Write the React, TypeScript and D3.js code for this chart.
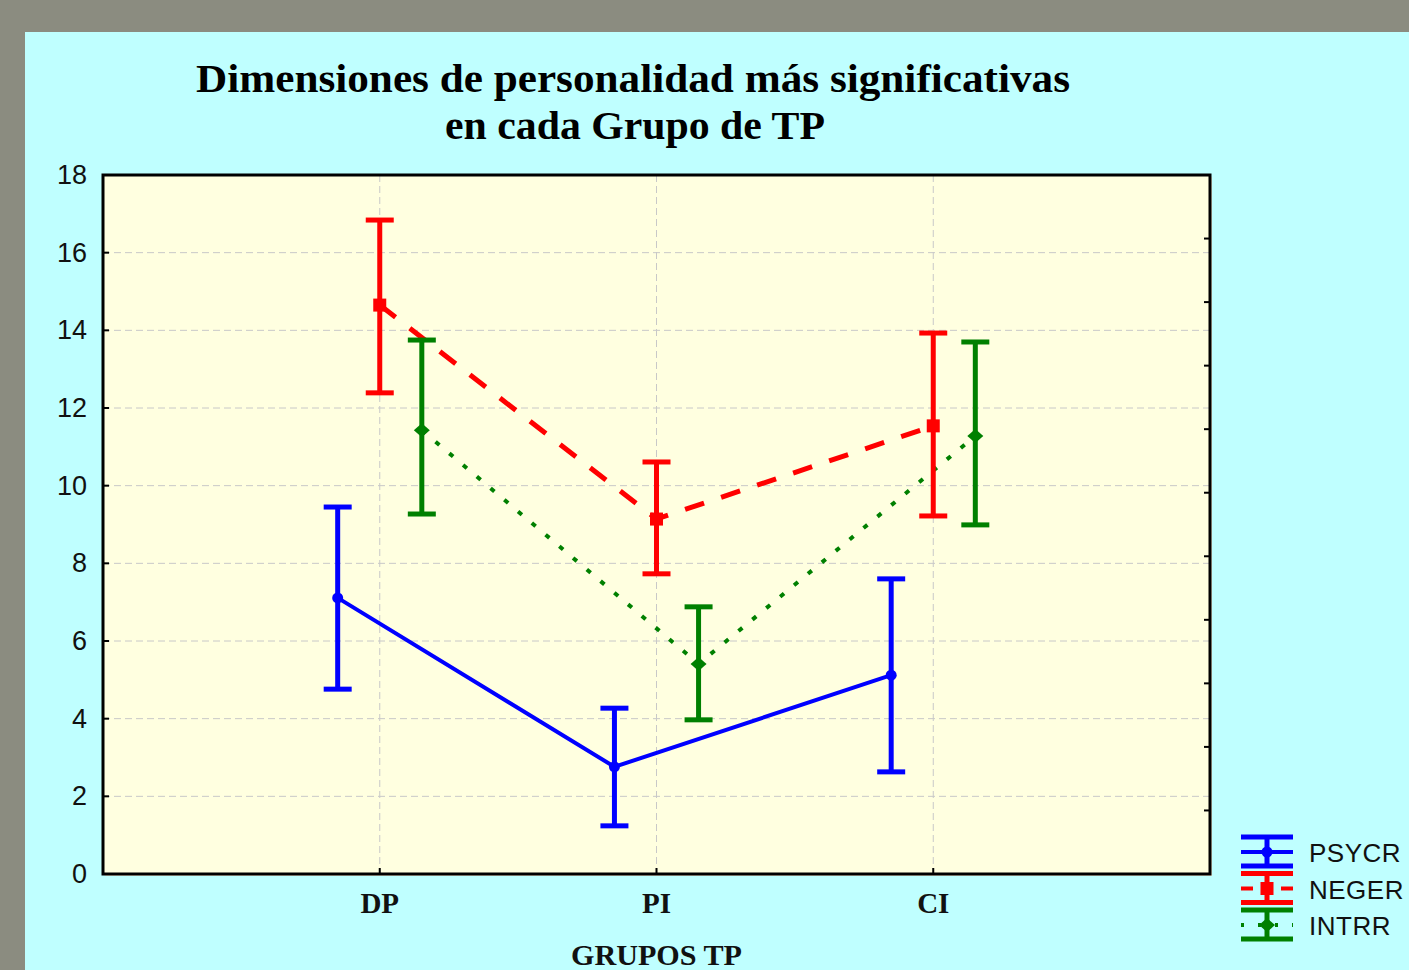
import React from "react";
import * as d3 from "d3";

const categories = ["DP", "PI", "CI"];
const seriesNames = ["PSYCR", "NEGER", "INTRR"];
const psycrMean = [7.11, 2.76, 5.12];
const psycrUpper = [9.45, 4.27, 7.6];
const psycrLower = [4.76, 1.24, 2.63];
const negerMean = [14.65, 9.14, 11.54];
const negerUpper = [16.84, 10.61, 13.93];
const negerLower = [12.39, 7.73, 9.22];
const intrrMean = [11.43, 5.41, 11.28];
const intrrUpper = [13.75, 6.88, 13.7];
const intrrLower = [9.27, 3.97, 8.99];
const yTicks = [0, 2, 4, 6, 8, 10, 12, 14, 16, 18];
const titleLines = ["Dimensiones de personalidad más significativas", "en cada Grupo de TP"];
const xTitle = "GRUPOS TP";

const W = 1409;
const H = 970;
const L = 103, R = 1210, T = 175, B = 874;

const x = d3.scaleLinear().domain([0, 4]).range([L, R]);
const y = d3.scaleLinear().domain([0, 18]).range([B, T]);
const yRight = d3.scaleLinear().domain([0, 11]).range([B, T]);

type Series = { name: string; mean: number[]; up: number[]; lo: number[]; color: string; offset: number; dash: string; marker: string };
const series: Series[] = [
  { name: seriesNames[0], mean: psycrMean, up: psycrUpper, lo: psycrLower, color: "#0000ff", offset: -0.152, dash: "", marker: "circle" },
  { name: seriesNames[1], mean: negerMean, up: negerUpper, lo: negerLower, color: "#ff0000", offset: 0, dash: "20,18", marker: "square" },
  { name: seriesNames[2], mean: intrrMean, up: intrrUpper, lo: intrrLower, color: "#008000", offset: 0.152, dash: "5,13", marker: "diamond" },
];

function Marker({ kind, cx, cy, color }: { kind: string; cx: number; cy: number; color: string }) {
  if (kind === "circle") return <circle cx={cx} cy={cy} r={5.5} fill={color} />;
  if (kind === "square") return <rect x={cx - 6.5} y={cy - 6.5} width={13} height={13} fill={color} />;
  return <path d={`M${cx},${cy - 7}L${cx + 8},${cy}L${cx},${cy + 7}L${cx - 8},${cy}Z`} fill={color} />;
}

export default function App() {
  const line = d3.line<[number, number]>().x((d) => d[0]).y((d) => d[1]);
  const capHalf = 14;
  const serif = "Liberation Serif, Times New Roman, serif";
  const sans = "Liberation Sans, Arial, sans-serif";
  return (
    <svg width={W} height={H} style={{ position: "absolute", left: 0, top: 0 }}>
      <rect x={0} y={0} width={W} height={H} fill="#8b8c80" />
      <rect x={25} y={32} width={W - 25} height={H - 32} fill="#bfffff" />
      {/* plot area */}
      <rect x={L + 2} y={T + 2} width={R - L} height={B - T} fill="#f0ead0" />
      <rect x={L} y={T} width={R - L} height={B - T} fill="#ffffe0" />
      {/* grid */}
      {yTicks.filter((t) => t > 0 && t < 18).map((t) => (
        <line key={"gy" + t} x1={L} x2={R} y1={y(t)} y2={y(t)} stroke="#c8c8c8" strokeWidth={1} strokeDasharray="7,4" />
      ))}
      {categories.map((c, i) => (
        <line key={"gx" + c} x1={x(i + 1)} x2={x(i + 1)} y1={T} y2={B} stroke="#c8c8c8" strokeWidth={1} strokeDasharray="7,4" />
      ))}
      {/* frame */}
      <rect x={L} y={T} width={R - L} height={B - T} fill="none" stroke="#000" strokeWidth={3} />
      {/* left ticks */}
      {yTicks.map((t) => (
        <g key={"yt" + t}>
          <line x1={L} x2={L + 6} y1={y(t)} y2={y(t)} stroke="#000" strokeWidth={2} />
          <text x={87} y={y(t) + 9} textAnchor="end" fontFamily={sans} fontSize={27} fill="#111">{t}</text>
        </g>
      ))}
      {/* right ticks */}
      {d3.range(1, 11).map((t) => (
        <line key={"rt" + t} x1={R - 6} x2={R} y1={yRight(t)} y2={yRight(t)} stroke="#000" strokeWidth={2} />
      ))}
      {/* bottom ticks & labels */}
      {categories.map((c, i) => (
        <g key={"xt" + c}>
          <line x1={x(i + 1)} x2={x(i + 1)} y1={B} y2={B - 6} stroke="#000" strokeWidth={2} />
          <text x={x(i + 1)} y={913} textAnchor="middle" fontFamily={serif} fontWeight="bold" fontSize={29} fill="#111">{c}</text>
        </g>
      ))}
      <text x={x(2)} y={965} textAnchor="middle" fontFamily={serif} fontWeight="bold" fontSize={29} fill="#111" textLength={171} lengthAdjust="spacingAndGlyphs">{xTitle}</text>
      {/* title */}
      <text x={633} y={92} textAnchor="middle" fontFamily={serif} fontWeight="bold" fontSize={40} fill="#000" textLength={874} lengthAdjust="spacingAndGlyphs">{titleLines[0]}</text>
      <text x={635} y={139} textAnchor="middle" fontFamily={serif} fontWeight="bold" fontSize={40} fill="#000" textLength={380} lengthAdjust="spacingAndGlyphs">{titleLines[1]}</text>
      {/* series lines */}
      {series.map((s) => (
        <path key={"ln" + s.name} d={line(s.mean.map((m, i) => [x(i + 1 + s.offset), y(m)]))!} fill="none" stroke={s.color}
          strokeWidth={s.marker === "square" ? 5 : 4} strokeDasharray={s.dash || undefined} />
      ))}
      {/* error bars */}
      {series.map((s) => s.mean.map((m, i) => {
        const cx = x(i + 1 + s.offset);
        return (
          <g key={"eb" + s.name + i}>
            <line x1={cx} x2={cx} y1={y(s.up[i])} y2={y(s.lo[i])} stroke={s.color} strokeWidth={5} />
            <line x1={cx - capHalf} x2={cx + capHalf} y1={y(s.up[i])} y2={y(s.up[i])} stroke={s.color} strokeWidth={5} />
            <line x1={cx - capHalf} x2={cx + capHalf} y1={y(s.lo[i])} y2={y(s.lo[i])} stroke={s.color} strokeWidth={5} />
            <Marker kind={s.marker} cx={cx} cy={y(m)} color={s.color} />
          </g>
        );
      }))}
      {/* legend */}
      {series.map((s, k) => {
        const cy = 852 + k * 36.5;
        const x0 = 1241, x1 = 1293, cx = 1267;
        return (
          <g key={"lg" + s.name}>
            <line x1={x0} x2={x1} y1={cy - 15} y2={cy - 15} stroke={s.color} strokeWidth={5} />
            <line x1={x0} x2={x1} y1={cy + 14} y2={cy + 14} stroke={s.color} strokeWidth={5} />
            <line x1={cx} x2={cx} y1={cy - 15} y2={cy + 14} stroke={s.color} strokeWidth={5} />
            <line x1={x0} x2={x1} y1={cy} y2={cy} stroke={s.color} strokeWidth={4}
              strokeDasharray={k === 0 ? undefined : k === 1 ? "12,8" : "3,14"} />
            <Marker kind={s.marker} cx={cx} cy={cy} color={s.color} />
            <text x={1309} y={cy + 10} fontFamily={sans} fontSize={26} fill="#111" letterSpacing={0.5}>{s.name}</text>
          </g>
        );
      })}
    </svg>
  );
}
